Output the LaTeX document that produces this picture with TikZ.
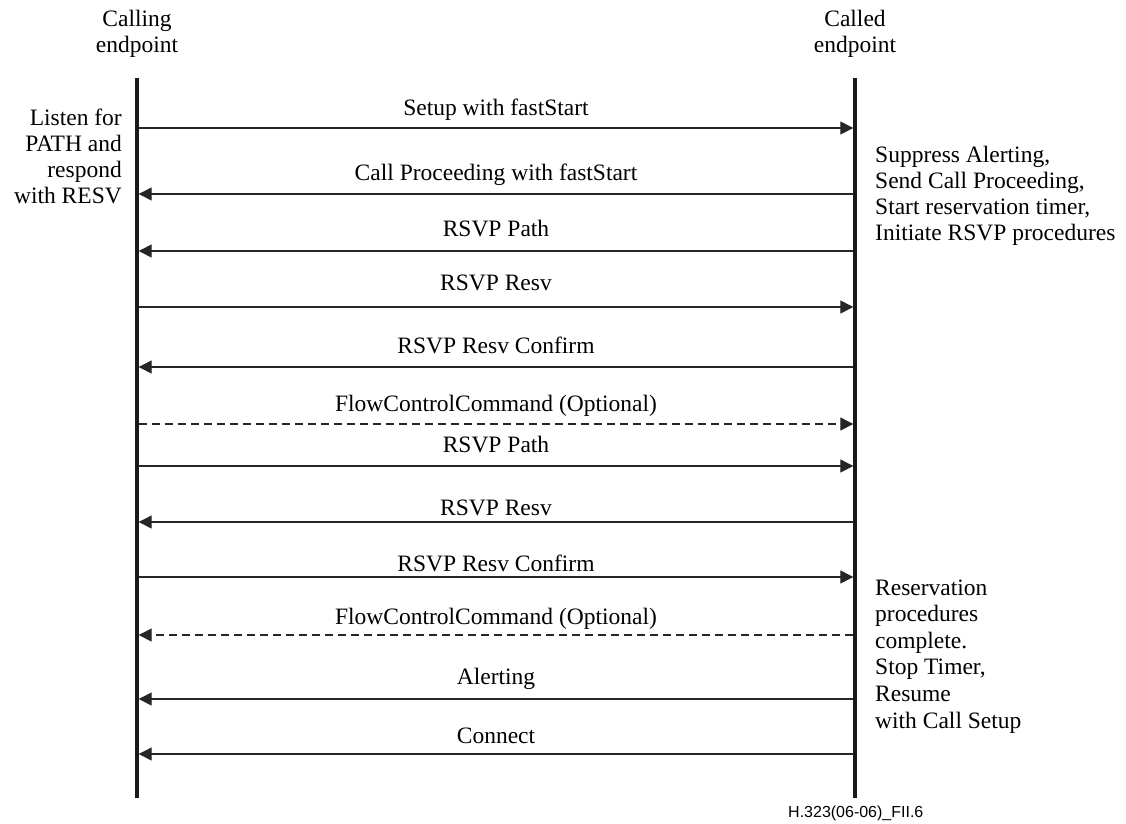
\documentclass[tikz,border=0pt]{standalone}
\usepackage{fontspec}
\setmainfont{Liberation Serif}
\newfontfamily\footfont{Liberation Sans}
\usetikzlibrary{arrows.meta}
\tikzset{
  lifeline/.style={line width=3.4pt, black!90},
  msg/.style={line width=1.3pt, black!85, -{Triangle[length=13pt,width=13pt]}},
  optmsg/.style={msg, dash pattern=on 8pt off 5pt},
  lbl/.style={font=\fontsize{23.5}{26}\selectfont, anchor=base, inner sep=0pt},
  note/.style={font=\fontsize{23.5}{26}\selectfont, inner sep=0pt, align=left},
}
\begin{document}
\begin{tikzpicture}[x=1pt,y=-1pt]
\useasboundingbox (0,0) rectangle (1126,823);
% headers
\node[note, align=center, anchor=base] (hl) at (137,52) {Calling\\endpoint};
\node[note, align=center, anchor=base] (hr) at (855,52) {Called\\endpoint};
% lifelines
\coordinate (Ltop) at (137,78);
\coordinate (Lbot) at (137,798);
\coordinate (Rtop) at (855,78);
\coordinate (Rbot) at (855,798);
\draw[lifeline] (Ltop) -- (Lbot);
\draw[lifeline] (Rtop) -- (Rbot);
% messages
\foreach \i/\y in {1/128,2/194,3/251,4/307,5/367,6/424,7/466,8/522,9/577,10/635,11/699,12/754}{
  \coordinate (L\i) at (138.7,\y);
  \coordinate (R\i) at (853.3,\y);
}
\draw[msg] (L1) -- (R1);
\draw[msg] (R2) -- (L2);
\draw[msg] (R3) -- (L3);
\draw[msg] (L4) -- (R4);
\draw[msg] (R5) -- (L5);
\draw[optmsg] (L6) -- (R6);
\draw[msg] (L7) -- (R7);
\draw[msg] (R8) -- (L8);
\draw[msg] (L9) -- (R9);
\draw[optmsg] (R10) -- (L10);
\draw[msg] (R11) -- (L11);
\draw[msg] (R12) -- (L12);
% labels
\node[lbl] (t1) at (496,115) {Setup with fastStart};
\node[lbl] (t2) at (496,180) {Call Proceeding with fastStart};
\node[lbl] (t3) at (496,236) {RSVP Path};
\node[lbl] (t4) at (496,290) {RSVP Resv};
\node[lbl] (t5) at (496,353) {RSVP Resv Confirm};
\node[lbl] (t6) at (496,411) {FlowControlCommand (Optional)};
\node[lbl] (t7) at (496,452) {RSVP Path};
\node[lbl] (t8) at (496,515) {RSVP Resv};
\node[lbl] (t9) at (496,571) {RSVP Resv Confirm};
\node[lbl] (t10) at (496,624) {FlowControlCommand (Optional)};
\node[lbl] (t11) at (496,684) {Alerting};
\node[lbl] (t12) at (496,743) {Connect};
% notes
\node[note, align=right, anchor=base east] (n1) at (122,203) {Listen for\\PATH and\\respond\\with RESV};
\node[note, anchor=base west] (n2) at (875,240) {Suppress Alerting,\\Send Call Proceeding,\\Start reservation timer,\\Initiate RSVP procedures};
\node[note, anchor=base west, font=\fontsize{23.5}{26.6}\selectfont] (n3) at (875,728) {Reservation\\procedures\\complete.\\Stop Timer,\\Resume\\with Call Setup};
% footer
\node[font=\footfont\fontsize{16}{18}\selectfont, anchor=base west, inner sep=0pt] (ft) at (788,817) {H.323(06-06)\_FII.6};
\end{tikzpicture}
\end{document}
